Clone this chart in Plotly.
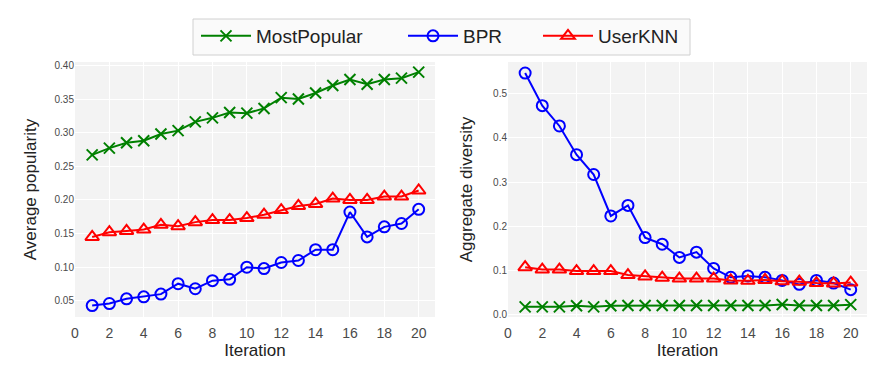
import plotly.graph_objects as go

iterations = list(range(1, 21))

pop_mostpopular = [0.267, 0.277, 0.285, 0.288, 0.298, 0.303, 0.316, 0.322, 0.330, 0.329,
                   0.336, 0.352, 0.350, 0.359, 0.370, 0.379, 0.372, 0.379, 0.381, 0.390]
pop_bpr = [0.043, 0.046, 0.053, 0.056, 0.060, 0.0755, 0.068, 0.080, 0.082, 0.100,
           0.098, 0.107, 0.110, 0.126, 0.126, 0.182, 0.145, 0.160, 0.165, 0.186]
pop_userknn = [0.145, 0.152, 0.154, 0.156, 0.163, 0.161, 0.167, 0.170, 0.170, 0.173,
               0.178, 0.185, 0.191, 0.194, 0.202, 0.200, 0.200, 0.205, 0.205, 0.214]

div_mostpopular = [0.017, 0.017, 0.017, 0.0195, 0.017, 0.0195, 0.020, 0.020, 0.020, 0.020,
                   0.020, 0.020, 0.020, 0.020, 0.020, 0.0225, 0.020, 0.020, 0.020, 0.022]
div_bpr = [0.547, 0.473, 0.427, 0.362, 0.317, 0.223, 0.247, 0.174, 0.159, 0.129,
           0.141, 0.104, 0.084, 0.087, 0.084, 0.077, 0.068, 0.077, 0.071, 0.056]
div_userknn = [0.107, 0.1015, 0.1015, 0.098, 0.098, 0.098, 0.089, 0.086, 0.083, 0.081,
               0.081, 0.081, 0.077, 0.076, 0.078, 0.075, 0.074, 0.071, 0.070, 0.072]

x_ticks = list(range(0, 21, 2))
left_y_ticks = [0.05, 0.10, 0.15, 0.20, 0.25, 0.30, 0.35, 0.40]
right_y_ticks = [0.0, 0.1, 0.2, 0.3, 0.4, 0.5]

FONT = "Liberation Sans, Arial, sans-serif"
OFF = 8  # default page body margin
W, H = 896 - OFF, 386 - OFF


def px(x):
    return (x - OFF) / W


def py(y):
    return 1 - (y - OFF) / H


series = [
    ("MostPopular", "green", "x-thin-open", 11, pop_mostpopular, div_mostpopular, "legend"),
    ("BPR", "blue", "circle-open", 11, pop_bpr, div_bpr, "legend2"),
    ("UserKNN", "red", "triangle-up-open", 12, pop_userknn, div_userknn, "legend3"),
]

fig = go.Figure()
for name, color, sym, msize, pop, div, lg in series:
    for i, (vals, xa, ya) in enumerate([(pop, "x", "y"), (div, "x2", "y2")]):
        fig.add_trace(go.Scatter(
            x=iterations, y=vals, xaxis=xa, yaxis=ya, name=name,
            mode="lines+markers", showlegend=(i == 0), legend=lg,
            line=dict(color=color, width=2),
            marker=dict(symbol=sym, size=msize,
                        color=color, line=dict(color=color, width=2)),
        ))

axis_common = dict(
    showgrid=True, gridcolor="white", gridwidth=1, zeroline=False, automargin=False,
    showline=False, ticks="", tickfont=dict(family=FONT, size=10, color="#4a4a4a"),
)
xaxis_common = dict(axis_common)
xaxis_common.update(tickmode="array", tickvals=x_ticks, range=[0, 20.95],
                    ticks="outside", ticklen=3, tickcolor="rgba(0,0,0,0)",
                    tickfont=dict(family=FONT, size=14, color="#4a4a4a"),
                    title=dict(text="Iteration", font=dict(family=FONT, size=17, color="#222"), standoff=1))

y0 = py(317)
y1 = py(62)

fig.update_layout(
    width=W, height=H,
    margin=dict(l=0, r=0, t=0, b=0, autoexpand=False),
    paper_bgcolor="white", plot_bgcolor="#F3F3F3",
    font=dict(family=FONT, color="#222"),
    xaxis=dict(xaxis_common, domain=[px(75), px(435)], anchor="y"),
    xaxis2=dict(xaxis_common, domain=[px(508), px(867)], anchor="y2"),
    yaxis=dict(axis_common, domain=[y0, y1], anchor="x", range=[0.026, 0.405],
               tickmode="array", tickvals=left_y_ticks, tickformat=".2f",
               title=dict(text="Average popularity", font=dict(family=FONT, size=17, color="#222"), standoff=13)),
    yaxis2=dict(axis_common, domain=[y0, y1], anchor="x2", range=[-0.006, 0.572],
                tickmode="array", tickvals=right_y_ticks, tickformat=".1f",
                title=dict(text="Aggregate diversity", font=dict(family=FONT, size=17, color="#222"), standoff=16)),
    shapes=[dict(type="rect", xref="paper", yref="paper",
                 x0=px(193), x1=px(690), y0=py(55), y1=py(19),
                 fillcolor="#FAFAFA", line=dict(color="#D0D0D0", width=1), layer="below")],
)

legend_common = dict(orientation="h", yanchor="middle", xanchor="left",
                     bgcolor="rgba(0,0,0,0)", borderwidth=0,
                     font=dict(family=FONT, size=19, color="#222"), itemwidth=50)
fig.update_layout(
    legend=dict(legend_common, x=px(200 - 4), y=py(36)),
    legend2=dict(legend_common, x=px(407 - 4), y=py(36)),
    legend3=dict(legend_common, x=px(542 - 4), y=py(36)),
)

fig.write_html("out.html")
